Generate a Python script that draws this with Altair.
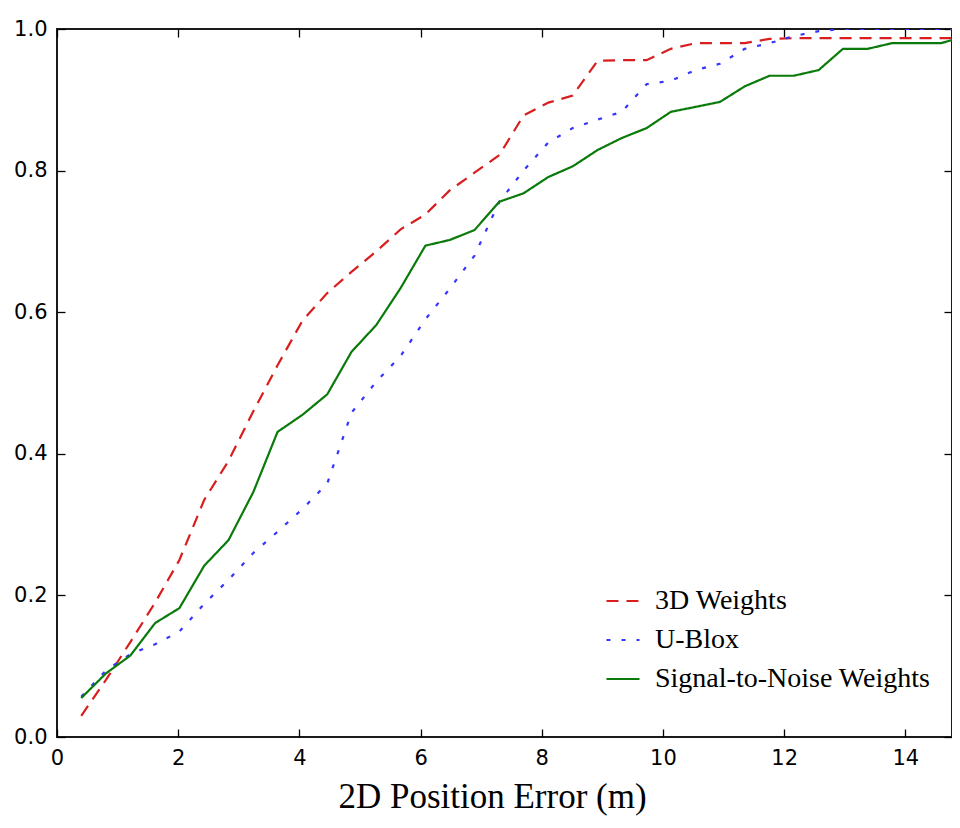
import altair as alt
import pandas as pd

# Shared x grid (2D position error, m)
x_vals = [0.40, 0.81, 1.21, 1.62, 2.02, 2.43, 2.83, 3.24, 3.64, 4.05, 4.46, 4.86,
          5.27, 5.67, 6.08, 6.48, 6.89, 7.30, 7.70, 8.11, 8.51, 8.92, 9.32, 9.73,
          10.13, 10.54, 10.94, 11.35, 11.76, 12.16, 12.57, 12.97, 13.38, 13.78,
          14.19, 14.59, 15.00]

weights_3d = [0.030, 0.081, 0.134, 0.190, 0.250, 0.335, 0.390, 0.460, 0.525, 0.588,
              0.627, 0.657, 0.686, 0.717, 0.738, 0.772, 0.797, 0.822, 0.878, 0.896,
              0.906, 0.955, 0.956, 0.956, 0.972, 0.980, 0.980, 0.980, 0.986, 0.987,
              0.987, 0.987, 0.987, 0.987, 0.987, 0.987, 0.987]

ublox = [0.057, 0.094, 0.117, 0.131, 0.149, 0.188, 0.222, 0.260, 0.290, 0.322,
         0.358, 0.458, 0.502, 0.538, 0.590, 0.633, 0.680, 0.756, 0.800, 0.840,
         0.860, 0.872, 0.883, 0.922, 0.927, 0.942, 0.951, 0.972, 0.980, 0.990,
         0.997, 1.000, 1.000, 1.000, 1.000, 1.000, 1.000]

snr_weights = [0.055, 0.090, 0.115, 0.161, 0.182, 0.242, 0.278, 0.346, 0.431, 0.455,
               0.484, 0.544, 0.582, 0.634, 0.694, 0.702, 0.716, 0.756, 0.768, 0.791,
               0.806, 0.829, 0.846, 0.860, 0.883, 0.890, 0.897, 0.919, 0.934, 0.934,
               0.942, 0.972, 0.972, 0.980, 0.980, 0.980, 0.990]

series_names = ["3D Weights", "U-Blox", "Signal-to-Noise Weights"]
series_colors = ["#d81e1e", "#3535ff", "#0a7a0a"]
series_dashes = [[12, 8], [4, 11], [1, 0]]

x_ticks = [0, 2, 4, 6, 8, 10, 12, 14]
y_ticks = [0.0, 0.2, 0.4, 0.6, 0.8, 1.0]

rows = []
for name, vals in zip(series_names, [weights_3d, ublox, snr_weights]):
    for xv, yv in zip(x_vals, vals):
        rows.append({"x": xv, "y": yv, "series": name})
df = pd.DataFrame(rows)

xscale = alt.Scale(domain=[0, 14.77], nice=False, zero=False)
yscale = alt.Scale(domain=[0, 1], nice=False, zero=False)

legend = alt.Legend(
    title=None, orient="none", legendX=548, legendY=554,
    labelFont="Liberation Serif", labelFontSize=28, labelColor="black",
    symbolType="stroke", symbolSize=1089, symbolStrokeWidth=2.2,
    labelOffset=14, rowPadding=7, padding=0, labelLimit=500,
)

lines = alt.Chart(df).mark_line(strokeWidth=2.2, clip=True, strokeCap="butt").encode(
    x=alt.X("x:Q", scale=xscale,
            axis=alt.Axis(orient="bottom", values=x_ticks, format="d", offset=-8,
                          tickSize=8, tickWidth=1.3, tickColor="black", domain=False,
                          grid=False, labelFont="DejaVu Sans", labelFontSize=21,
                          labelColor="black", labelPadding=10, labelFlush=False,
                          title="2D Position Error (m)", titleFont="Liberation Serif",
                          titleFontSize=35, titleFontWeight="normal", titleColor="black",
                          titleX=435, titleY=78, titleBaseline="alphabetic",
                          titleAlign="center")),
    y=alt.Y("y:Q", scale=yscale,
            axis=alt.Axis(orient="left", values=y_ticks, format=".1f", offset=-8,
                          tickSize=8, tickWidth=1.3, tickColor="black", domain=False,
                          grid=False, labelFont="DejaVu Sans", labelFontSize=21,
                          labelColor="black", labelPadding=10, labelFlush=False,
                          title=None)),
    color=alt.Color("series:N", scale=alt.Scale(domain=series_names, range=series_colors),
                    legend=legend),
    strokeDash=alt.StrokeDash("series:N",
                              scale=alt.Scale(domain=series_names, range=series_dashes),
                              legend=legend),
    order=alt.Order("x:Q"),
)

frame_ticks = alt.Chart(df).mark_point(opacity=0).encode(
    x=alt.X("x:Q", scale=xscale,
            axis=alt.Axis(orient="top", values=x_ticks, offset=-8, tickSize=8,
                          tickWidth=1.3, tickColor="black", domain=False, grid=False,
                          labels=False, title=None)),
    y=alt.Y("y:Q", scale=yscale,
            axis=alt.Axis(orient="right", values=y_ticks, offset=-8, tickSize=8,
                          tickWidth=1.3, tickColor="black", domain=False, grid=False,
                          labels=False, title=None)),
)

chart = alt.layer(lines, frame_ticks).resolve_axis(
    x="independent", y="independent"
).properties(
    width=895, height=708,
    autosize=alt.AutoSizeParams(type="none"),
    padding={"left": 49, "top": 21, "right": 0, "bottom": 79},
).configure_view(
    stroke="#1a1a1a", strokeWidth=2
).configure_axis(
    zindex=1
)

chart.save("out.html", embed_options={"renderer": "svg", "actions": False})
